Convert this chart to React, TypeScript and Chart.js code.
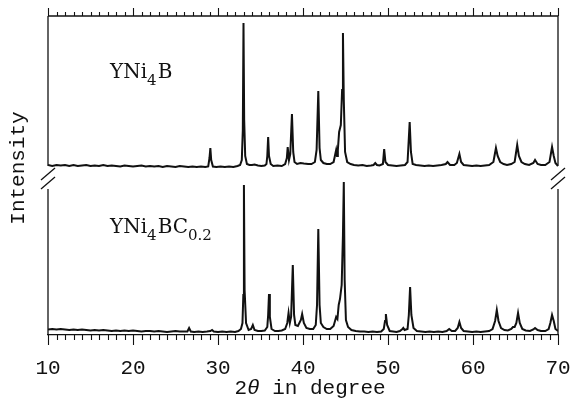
import React, { useEffect, useRef } from "react";
import { Chart, registerables } from "chart.js";

Chart.register(...registerables);

// 2θ range and tick labels
const thetaMin = 10;
const thetaMax = 70;
const tickLabels = [10, 20, 30, 40, 50, 60, 70];

// vertical offset of the upper pattern (stacked display)
const topOffset = 165;
const intensityMax = 319;

// YNi4B pattern: [2θ, intensity]
const ynI4B: [number, number][] = [
  [10, 5], [10.5, 4], [11, 5], [11.5, 4.5], [12, 5], [12.5, 4], [13, 5], [13.5, 4], [14, 4.5], [14.5, 5],
  [15, 4], [15.5, 4.5], [16, 4], [16.5, 5], [17, 4], [17.5, 4.5], [18, 4], [18.5, 3.5], [19, 4.5], [19.5, 4],
  [20, 3.5], [20.5, 4], [21, 4.5], [21.5, 3.5], [22, 4], [22.5, 3.5], [23, 4], [23.5, 3], [24, 4], [24.5, 3.5],
  [25, 3], [25.5, 4], [26, 3.5], [26.5, 3], [27, 3.5], [27.5, 3], [28, 3.5], [28.5, 3], [28.85, 3.5], [29, 12],
  [29.1, 22], [29.2, 10], [29.4, 3.5], [29.8, 3], [30.3, 3.5], [30.8, 3], [31.3, 3.5], [31.8, 3], [32.3, 4], [32.6, 5],
  [32.8, 10], [32.92, 40], [33, 147], [33.08, 50], [33.2, 14], [33.4, 6], [33.7, 5], [34, 5], [34.3, 5.5], [34.7, 4.5],
  [35.1, 4], [35.5, 4.5], [35.7, 6], [35.8, 14], [35.9, 33], [36, 14], [36.2, 6], [36.5, 4], [37, 4.5], [37.5, 4],
  [37.9, 6], [38.1, 12], [38.2, 23], [38.35, 10], [38.5, 16], [38.7, 56], [38.85, 18], [39, 8], [39.3, 6], [39.7, 7],
  [40.1, 6.5], [40.6, 6], [41, 6], [41.4, 8], [41.6, 20], [41.8, 79], [41.95, 22], [42.1, 10], [42.4, 7], [42.8, 6],
  [43.2, 6], [43.6, 8], [43.8, 16], [43.9, 20], [44, 14], [44.1, 20], [44.25, 38], [44.45, 45], [44.6, 80], [44.7, 137],
  [44.8, 70], [44.95, 18], [45.2, 8], [45.6, 6], [46, 5], [46.5, 4.5], [47, 5], [47.5, 4], [48, 4.5], [48.3, 5],
  [48.5, 7], [48.7, 5], [49, 4.5], [49.4, 6], [49.55, 21], [49.7, 8], [50, 5], [50.5, 4.5], [51, 4], [51.5, 4.5],
  [52, 5], [52.3, 8], [52.55, 48], [52.7, 18], [52.9, 6], [53.3, 5], [53.8, 4.5], [54.3, 4], [54.8, 4.5], [55.3, 4],
  [55.8, 4.5], [56.3, 5], [56.8, 6], [57, 8], [57.3, 5], [57.8, 5], [58.1, 7], [58.4, 16], [58.6, 8], [58.9, 5],
  [59.4, 4.5], [59.9, 4], [60.4, 4.5], [60.9, 4], [61.4, 4.5], [61.9, 5], [62.4, 8], [62.7, 22], [62.9, 14], [63.2, 8],
  [63.6, 6], [64, 5], [64.5, 6], [64.9, 8], [65.2, 25], [65.4, 14], [65.7, 8], [66.1, 6], [66.6, 5], [67.1, 7],
  [67.3, 10], [67.6, 6], [68, 5], [68.5, 5], [69, 8], [69.3, 23], [69.5, 14], [69.7, 7], [70, 4],
];

// YNi4BC0.2 pattern: [2θ, intensity]
const ynI4BC02: [number, number][] = [
  [10, 5.5], [10.5, 6], [11, 5.5], [11.5, 6], [12, 5.5], [12.5, 5], [13, 5.5], [13.5, 5], [14, 5.5], [14.5, 5],
  [15, 4.5], [15.5, 5], [16, 4.5], [16.5, 5], [17, 4.5], [17.5, 4], [18, 4.5], [18.5, 4], [19, 4.5], [19.5, 4],
  [20, 4.5], [20.5, 4], [21, 3.5], [21.5, 4], [22, 4], [22.5, 3.5], [23, 4], [23.5, 3.5], [24, 3], [24.5, 3.5],
  [25, 4], [25.5, 3.5], [26, 3.5], [26.4, 3.5], [26.6, 7], [26.8, 3.5], [27.2, 3], [27.7, 3.5], [28.2, 3], [28.7, 3.5],
  [29.1, 4], [29.3, 5], [29.5, 3.5], [30, 3], [30.5, 3.5], [31, 3], [31.5, 3.5], [32, 3], [32.4, 4], [32.7, 6],
  [32.88, 12], [32.98, 40], [33.05, 150], [33.13, 45], [33.3, 12], [33.6, 5], [33.9, 6], [34.1, 10], [34.3, 5], [34.7, 4],
  [35.1, 4], [35.5, 4.5], [35.8, 8], [35.9, 20], [36, 41], [36.1, 18], [36.3, 6], [36.7, 4], [37.1, 4], [37.5, 4.5],
  [37.9, 6], [38.15, 12], [38.3, 22], [38.45, 12], [38.6, 18], [38.8, 70], [38.95, 20], [39.1, 10], [39.4, 9], [39.75, 15],
  [39.9, 21], [40.1, 12], [40.4, 7], [40.8, 6], [41.2, 6], [41.5, 10], [41.65, 30], [41.8, 106], [41.95, 30], [42.1, 12],
  [42.4, 8], [42.8, 6], [43.2, 6], [43.6, 9], [43.8, 15], [43.9, 18], [44.05, 16], [44.2, 30], [44.35, 36], [44.55, 50],
  [44.7, 100], [44.8, 153], [44.9, 55], [45.05, 15], [45.3, 8], [45.7, 5], [46.2, 4], [46.7, 3.5], [47.2, 3.5], [47.7, 3],
  [48.2, 3.5], [48.7, 3], [49.2, 3.5], [49.5, 6], [49.65, 14], [49.75, 21], [49.9, 10], [50.2, 4], [50.6, 3.5], [51, 3],
  [51.4, 4], [51.7, 6], [51.8, 7], [51.95, 5], [52.3, 6], [52.45, 20], [52.6, 48], [52.75, 20], [53, 7], [53.4, 4],
  [53.9, 3.5], [54.4, 3], [54.9, 3.5], [55.4, 3], [55.9, 3.5], [56.4, 3], [56.9, 4], [57.2, 6], [57.5, 4], [57.9, 4],
  [58.2, 7], [58.4, 13], [58.6, 7], [58.9, 4], [59.4, 3.5], [59.9, 3], [60.4, 3.5], [60.9, 3], [61.4, 3.5], [61.9, 4],
  [62.3, 6], [62.6, 14], [62.8, 25], [63, 14], [63.3, 7], [63.7, 5], [64.1, 4.5], [64.5, 6], [64.7, 8], [64.9, 8],
  [65.1, 12], [65.3, 22], [65.5, 12], [65.8, 6], [66.2, 4.5], [66.7, 4], [67.1, 5.5], [67.3, 7], [67.6, 5], [68, 4],
  [68.5, 4], [68.9, 6], [69.1, 12], [69.3, 20], [69.5, 14], [69.7, 6], [70, 4],
];

// y-range of the gap in the side axes (axis break)
const axisBreak: [number, number] = [146, 169];

const INK = "#111";
const MONO = "'Liberation Mono', 'DejaVu Sans Mono', monospace";
const SERIF = "'DejaVu Serif', 'Liberation Serif', serif";

type Seg = { t: string; sub?: boolean };

function drawFormula(ctx: CanvasRenderingContext2D, segs: Seg[], x: number, y: number) {
  let cx = x;
  ctx.textBaseline = "alphabetic";
  ctx.textAlign = "left";
  for (const s of segs) {
    ctx.font = s.sub ? `15px ${SERIF}` : `20px ${SERIF}`;
    const yy = s.sub ? y + 7 : y;
    ctx.fillText(s.t, cx, yy);
    cx += ctx.measureText(s.t).width + (s.sub ? 1 : 0);
  }
}

const decorPlugin = {
  id: "decor",
  afterDraw(chart: any) {
    const { ctx, chartArea: a, scales } = chart;
    const xs = scales.x;
    const ys = scales.y;
    ctx.save();
    ctx.strokeStyle = INK;
    ctx.fillStyle = INK;
    ctx.lineWidth = 1.3;
    const ln = (x1: number, y1: number, x2: number, y2: number) => {
      ctx.beginPath();
      ctx.moveTo(x1, y1);
      ctx.lineTo(x2, y2);
      ctx.stroke();
    };
    // frame
    ln(a.left, a.top, a.right, a.top);
    const gTop = ys.getPixelForValue(axisBreak[1]);
    const gBot = ys.getPixelForValue(axisBreak[0]);
    for (const x of [a.left, a.right]) {
      ln(x, a.top, x, gTop);
      ln(x, gBot, x, a.bottom);
      // break slashes
      const c1 = gTop + 8;
      const c2 = gBot - 6;
      ln(x - 7, c1 + 6, x + 7, c1 - 6);
      ln(x - 7, c2 + 6, x + 7, c2 - 6);
    }
    // ticks top & bottom
    ctx.lineWidth = 1.1;
    for (let v = thetaMin; v <= thetaMax; v++) {
      const px = Math.round(xs.getPixelForValue(v)) + 0.5;
      const major = v % 10 === 0;
      ln(px, a.bottom, px, a.bottom + (major ? 10 : 5));
      ln(px, a.top, px, a.top - (major ? 8 : 4));
    }
    // sample labels
    drawFormula(ctx, [{ t: "YNi" }, { t: "4", sub: true }, { t: "B" }], 110, 78);
    drawFormula(
      ctx,
      [{ t: "YNi" }, { t: "4", sub: true }, { t: "BC" }, { t: "0.2", sub: true }],
      110,
      233
    );
    // x title
    ctx.textBaseline = "middle";
    ctx.textAlign = "left";
    const parts: [string, string][] = [
      ["2", `21px ${MONO}`],
      ["θ", `italic 21px ${MONO}`],
      [" in degree", `21px ${MONO}`],
    ];
    let total = 0;
    for (const [t, f] of parts) {
      ctx.font = f;
      total += ctx.measureText(t).width;
    }
    let cx = 310 - total / 2;
    for (const [t, f] of parts) {
      ctx.font = f;
      ctx.fillText(t, cx, 388);
      cx += ctx.measureText(t).width;
    }
    // y title
    ctx.save();
    ctx.translate(18, 168);
    ctx.rotate(-Math.PI / 2);
    ctx.textAlign = "center";
    ctx.font = `21px ${MONO}`;
    ctx.fillText("Intensity", 0, 0);
    ctx.restore();
    ctx.restore();
  },
};

export default function App() {
  const ref = useRef<HTMLCanvasElement>(null);
  useEffect(() => {
    document.body.style.margin = "0";
    const canvas = ref.current!;
    const chart = new Chart(canvas, {
      type: "scatter",
      data: {
        datasets: [
          {
            label: "YNi4B",
            data: ynI4B.map(([x, y]) => ({ x, y: y + topOffset })),
            showLine: true,
            borderColor: INK,
            borderWidth: 2,
            pointRadius: 0,
            tension: 0,
          },
          {
            label: "YNi4BC0.2",
            data: ynI4BC02.map(([x, y]) => ({ x, y })),
            showLine: true,
            borderColor: INK,
            borderWidth: 2,
            pointRadius: 0,
            tension: 0,
          },
        ],
      },
      options: {
        animation: false,
        responsive: false,
        maintainAspectRatio: false,
        layout: { padding: { left: 48, right: 16, top: 16, bottom: 0 } },
        plugins: { legend: { display: false }, tooltip: { enabled: false } },
        scales: {
          x: {
            type: "linear",
            min: thetaMin,
            max: thetaMax,
            position: "bottom",
            afterBuildTicks: (scale: any) => {
              scale.ticks = tickLabels.map((v) => ({ value: v }));
            },
            afterFit: (scale: any) => {
              scale.height = 65;
              scale.paddingLeft = 0;
              scale.paddingRight = 0;
            },
            ticks: {
              font: { family: MONO, size: 21 },
              color: INK,
              padding: 21,
              maxRotation: 0,
              autoSkip: false,
            },
            grid: { display: false, drawTicks: false, tickLength: 0 },
            border: { display: true, color: INK, width: 1.3 },
          },
          y: {
            min: 0,
            max: intensityMax,
            display: false,
          },
        },
      },
      plugins: [decorPlugin],
    });
    return () => chart.destroy();
  }, []);
  return <canvas ref={ref} width={574} height={400} style={{ display: "block" }} />;
}
